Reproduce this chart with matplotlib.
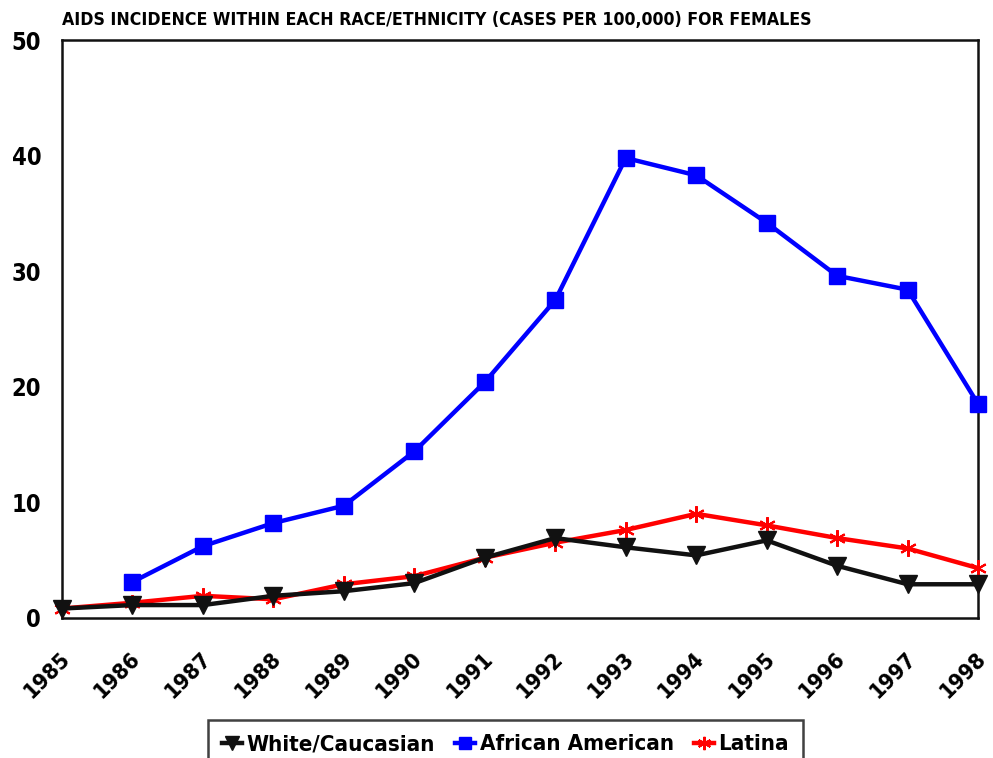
import matplotlib.pyplot as plt
import matplotlib.transforms as mtransforms
import numpy as np

years = [1985, 1986, 1987, 1988, 1989, 1990, 1991, 1992, 1993, 1994, 1995, 1996, 1997, 1998]
white = [0.8, 1.1, 1.1, 1.9, 2.3, 3.0, 5.2, 6.9, 6.1, 5.4, 6.7, 4.5, 2.9, 2.9]
african_american = [np.nan, 3.1, 6.2, 8.2, 9.7, 14.4, 20.4, 27.5, 39.8, 38.3, 34.2, 29.6, 28.4, 18.5]
latina = [0.8, 1.3, 1.9, 1.6, 2.9, 3.6, 5.2, 6.5, 7.6, 9.0, 8.0, 6.9, 6.0, 4.3]

plt.rcParams['font.family'] = ['DejaVu Sans']
plt.rcParams['font.stretch'] = 'condensed'
plt.rcParams['font.weight'] = 'bold'

fig = plt.figure(figsize=(9.93, 7.58), dpi=100)
ax = fig.add_axes([0.0624, 0.185, 0.9226, 0.762])

ax.plot(years, white, color='#111111', lw=3.2, marker='v', ms=13, label='White/Caucasian', clip_on=False, zorder=4)
ax.plot(years, african_american, color='#0000ff', lw=3.2, marker='s', ms=11, label='African American', clip_on=False, zorder=3)
ax.plot(years, latina, color='#ff0000', lw=3.2, marker=(6, 2, 0), ms=12, mew=1.5, label='Latina', clip_on=False, zorder=3)

ax.set_xlim(1985, 1998)
ax.set_ylim(0, 50)
ax.set_xticks(years)
ax.set_xticklabels([str(y) for y in years], rotation=45, ha='right', va='center',
                   rotation_mode='anchor', fontsize=16)
ax.set_yticks([0, 10, 20, 30, 40, 50])
ax.set_yticklabels(['0', '10', '20', '30', '40', '50'], fontsize=17)
ax.tick_params(length=0)
ax.tick_params(axis='y', pad=15)
ax.tick_params(axis='x', pad=27)
offset = mtransforms.ScaledTranslation(5 / 100, 0, fig.dpi_scale_trans)
for lbl in ax.get_xticklabels():
    lbl.set_transform(lbl.get_transform() + offset)
for s in ax.spines.values():
    s.set_linewidth(1.8)
    s.set_color('#111111')

fig.text(0.0624, 0.985, 'AIDS INCIDENCE WITHIN EACH RACE/ETHNICITY (CASES PER 100,000) FOR FEMALES',
         fontsize=12.7, fontweight='bold', va='top', ha='left')

leg = fig.legend(loc='upper left', bbox_to_anchor=(208 / 993, 1 - 720 / 758), ncol=3,
                 fontsize=16, frameon=True, fancybox=False, edgecolor='#111111',
                 handlelength=0.9, handletextpad=0.2, columnspacing=0.9, borderpad=0.65,
                 borderaxespad=0, markerscale=0.8)
leg.get_frame().set_linewidth(1.8)

fig.savefig('out.png', dpi=100)
